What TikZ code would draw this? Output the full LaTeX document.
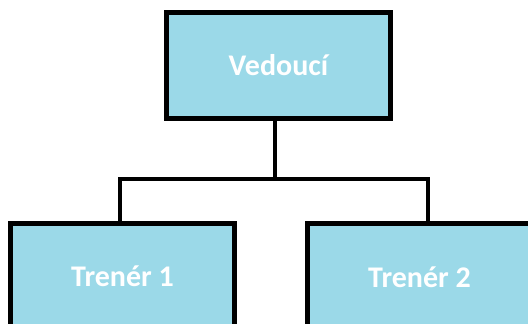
\documentclass[tikz,border=0pt]{standalone}
\usepackage{fontspec}
\setmainfont{Carlito}
\usepackage{tikz}
\usetikzlibrary{positioning}
\definecolor{boxblue}{RGB}{155,217,232}

\begin{document}
\begin{tikzpicture}[x=1pt,y=1pt,
	box/.style={draw=black,line width=5pt,fill=boxblue,minimum width=224pt,minimum height=106pt,inner sep=0pt,text=white,font=\fontsize{30}{30}\selectfont\bfseries},
	link/.style={draw=black,line width=4pt,line cap=rect}]
	  \useasboundingbox (0,0) rectangle (528,324);
	  % Draw the boxes
	  \node[box] (lead) at (278.5,258.5) {Vedoucí};
	  \node[box] (tr1) at (122.5,47.5) {Trenér 1};
	  \node[box] (tr2) at (419.5,47) {Trenér 2};
	  % Bar between the levels
	  \coordinate (jn) at (275,145);
	  \coordinate (barL) at (120,145);
	  \coordinate (barR) at (428,145);
	  \draw[link] (lead.south -| jn) -- (jn);
	  \draw[link] (barL |- tr1.north) -- (barL) -- (barR) -- (barR |- tr2.north);
\end{tikzpicture}
\end{document}
